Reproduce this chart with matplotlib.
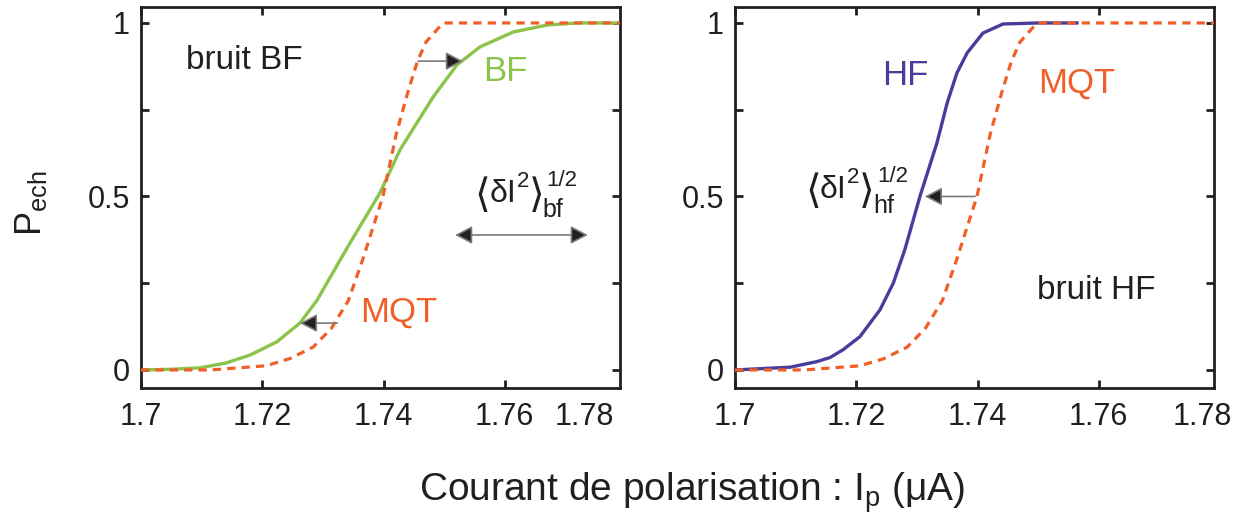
import matplotlib
matplotlib.use("Agg")
import matplotlib.pyplot as plt

FAM = ['Liberation Sans', 'DejaVu Sans']
plt.rcParams['font.family'] = FAM
plt.rcParams['mathtext.fontset'] = 'custom'
plt.rcParams['mathtext.rm'] = 'Liberation Sans'
plt.rcParams['mathtext.it'] = 'Liberation Sans'
plt.rcParams['mathtext.sf'] = 'Liberation Sans'

# ---- data ----
bf_x = [1.700, 1.705, 1.7097, 1.714, 1.718, 1.7224, 1.7262, 1.729, 1.7341, 1.7394,
        1.7427, 1.7455, 1.7482, 1.7521, 1.7559, 1.7614, 1.767, 1.772, 1.779]
bf_y = [0.0, 0.002, 0.006, 0.02, 0.043, 0.081, 0.135, 0.20, 0.355, 0.51,
        0.634, 0.712, 0.787, 0.879, 0.931, 0.974, 0.994, 1.0, 1.0]

mqt_x = [1.700, 1.7114, 1.7206, 1.7246, 1.7284, 1.7314, 1.7342, 1.7366, 1.7399,
         1.7421, 1.7440, 1.7456, 1.7470, 1.7491, 1.7500, 1.779]
mqt_y = [0.0, 0.0, 0.012, 0.033, 0.066, 0.12, 0.20, 0.32, 0.50,
         0.68, 0.80, 0.89, 0.945, 0.986, 1.0, 1.0]

hf_x = [1.700, 1.7091, 1.7135, 1.7157, 1.7178, 1.7206, 1.7239, 1.7261, 1.728,
        1.7305, 1.7333, 1.735, 1.7366, 1.7383, 1.7409, 1.7442, 1.750, 1.7564]
hf_y = [0.0, 0.008, 0.024, 0.036, 0.058, 0.096, 0.173, 0.25, 0.346,
        0.50, 0.654, 0.77, 0.856, 0.914, 0.971, 0.997, 1.0, 1.0]

xticks = [1.70, 1.72, 1.74, 1.76]
xticklabels = ['1.7', '1.72', '1.74', '1.76']
last_xlabel = '1.78'
yticks_major = [0, 0.5, 1]
yticklabels = ['0', '0.5', '1']
yticks_minor = [0.25, 0.75]

C_OR = '#f15f29'
C_GR = '#8cc34a'
C_BL = '#473e9c'
C_K = '#231f20'
C_ARR = '#7a7a7a'

TICK_FS = 22
XPAD = 10

fig = plt.figure(figsize=(12.41, 5.23), dpi=100)
axL = fig.add_axes([141/1241, 1-388/523, 479/1241, 381/523])
axR = fig.add_axes([735/1241, 1-388/523, 479/1241, 381/523])

for ax, lastpos in ((axL, 1.7731), (axR, 1.7770)):
    ax.set_xlim(1.7, 1.779)
    ax.set_ylim(-0.052, 1.046)
    for s in ax.spines.values():
        s.set_linewidth(2.0)
        s.set_color(C_K)
    ax.set_xticks(xticks)
    ax.set_xticklabels(xticklabels)
    ax.set_yticks(yticks_major)
    ax.set_yticklabels(yticklabels)
    ax.set_yticks(yticks_minor, minor=True)
    ax.tick_params(which='both', direction='in', top=True, right=True,
                   length=6, width=2.0, color=C_K, labelsize=TICK_FS,
                   labelcolor=C_K)
    ax.tick_params(axis='x', pad=XPAD)
    ax.tick_params(axis='y', pad=8)
    ax.annotate(last_xlabel, xy=(lastpos, 0), xycoords=('data', 'axes fraction'),
                xytext=(0, -XPAD), textcoords='offset points',
                ha='center', va='top', fontsize=TICK_FS, color=C_K,
                annotation_clip=False)
    ax.plot(mqt_x, mqt_y, color=C_OR, lw=2.3, dashes=(2.6, 1.9), zorder=3)


def bracket_expr(ax, x, y, sub):
    """<dI^2>^(1/2)_sub built from text pieces; offsets in pixels."""
    pieces = [
        ('\u27e8', -1, 0, 29, 'center', ['DejaVu Sans']),
        ('\u03b4I', 14, -6, 23, 'baseline', FAM),
        ('2', 41, 9, 16, 'baseline', FAM),
        ('\u27e9', 53, 0, 29, 'center', ['DejaVu Sans']),
        ('1/2', 71, 10, 16, 'baseline', FAM),
        (sub, 67, -21, 18, 'baseline', FAM),
    ]
    for txt, dx, dy, fs, va, fam in pieces:
        ax.annotate(txt, xy=(x, y), xycoords='data', xytext=(dx, dy),
                    textcoords='offset pixels', ha='left', va=va,
                    fontsize=fs, color=C_K, family=fam)


arrow_kw = dict(arrowstyle='-|>,head_length=1.05,head_width=0.55', lw=1.2,
                edgecolor=C_ARR, facecolor=C_K, shrinkA=0, shrinkB=0)

# Left panel
axL.plot(bf_x, bf_y, color=C_GR, lw=2.4, zorder=2)
axL.text(1.7074, 0.893, 'bruit BF', fontsize=24, color=C_K, va='center', ha='left')
axL.text(1.7564, 0.859, 'BF', fontsize=25, color=C_GR, va='center', ha='left')
axL.text(1.7361, 0.167, 'MQT', fontsize=25, color=C_OR, va='center', ha='left')
bracket_expr(axL, 1.7552, 0.50, 'bf')
axL.annotate('', xy=(1.7262, 0.135), xytext=(1.7324, 0.135), arrowprops=arrow_kw)
axL.annotate('', xy=(1.7531, 0.89), xytext=(1.7457, 0.89), arrowprops=arrow_kw)
axL.annotate('', xy=(1.7737, 0.389), xytext=(1.7518, 0.389),
             arrowprops=dict(arrow_kw, arrowstyle='<|-|>,head_length=1.05,head_width=0.55'))

# Right panel
axR.plot(hf_x, hf_y, color=C_BL, lw=2.4, zorder=2)
axR.text(1.7242, 0.85, 'HF', fontsize=25, color=C_BL, va='center', ha='left')
axR.text(1.7500, 0.827, 'MQT', fontsize=25, color=C_OR, va='center', ha='left')
axR.text(1.7498, 0.23, 'bruit HF', fontsize=24, color=C_K, va='center', ha='left')
bracket_expr(axR, 1.7117, 0.514, 'hf')
axR.annotate('', xy=(1.7313, 0.50), xytext=(1.7396, 0.50), arrowprops=arrow_kw)

fig.text(31/1241, 1-203/523, r'$\mathrm{P}_{\mathrm{ech}}$', rotation=90,
         fontsize=26, color=C_K, ha='center', va='center')
fig.text(692/1241, 1-493/523, r'Courant de polarisation : I$_{\mathrm{p}}$ ($\mathrm{\mu}$A)',
         fontsize=28, color=C_K, ha='center', va='center')

fig.savefig('out.png', dpi=100)
